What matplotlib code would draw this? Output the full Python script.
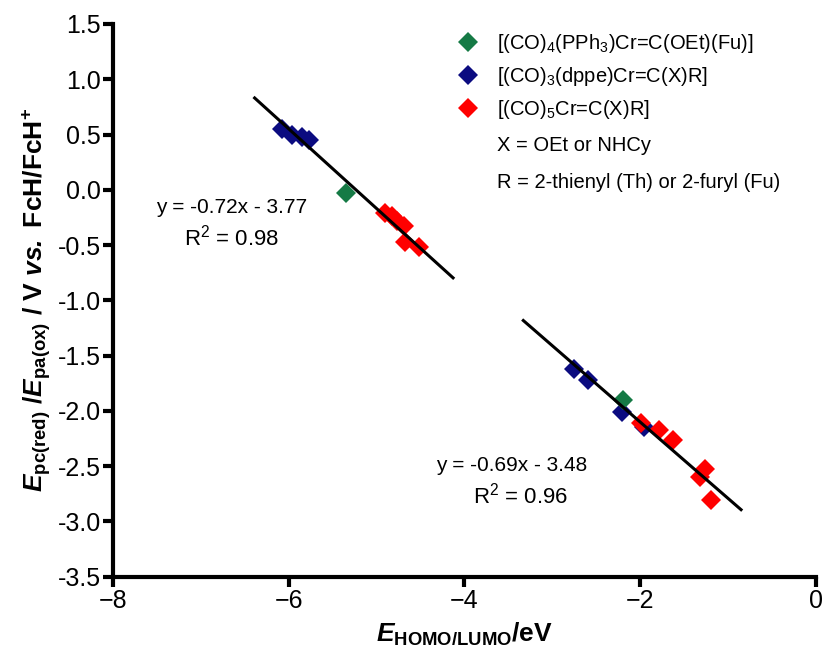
import numpy as np
import matplotlib
matplotlib.use('Agg')
import matplotlib.pyplot as plt
from matplotlib.lines import Line2D

# Potenciales vs energias de orbitales (HOMO = oxidacion, LUMO = reduccion)
# grupo superior: oxidacion / HOMO
homo_pph3_x = [-5.35]
homo_pph3_y = [-0.03]
homo_dppe_x = [-6.08, -5.97, -5.85, -5.77]
homo_dppe_y = [0.55, 0.50, 0.48, 0.45]
homo_co5_x = [-4.90, -4.83, -4.77, -4.69, -4.68, -4.52]
homo_co5_y = [-0.21, -0.24, -0.28, -0.33, -0.47, -0.52]

# grupo inferior: reduccion / LUMO
lumo_pph3_x = [-2.19]
lumo_pph3_y = [-1.90]
lumo_dppe_x = [-2.75, -2.59, -2.21, -1.95]
lumo_dppe_y = [-1.62, -1.72, -2.01, -2.15]
lumo_co5_x = [-1.99, -1.78, -1.62, -1.32, -1.26, -1.19]
lumo_co5_y = [-2.11, -2.17, -2.26, -2.60, -2.53, -2.81]

# rectas de ajuste (pendiente, ordenada, rango de x, R2)
fit_homo = (-0.72, -3.77, (-6.39, -4.13), 0.98)
fit_lumo = (-0.69, -3.48, (-3.33, -0.85), 0.96)

etiquetas = [r'[(CO)$_4$(PPh$_3$)Cr=C(OEt)(Fu)]',
             r'[(CO)$_3$(dppe)Cr=C(X)R]',
             r'[(CO)$_5$Cr=C(X)R]']
notas = ['X = OEt or NHCy',
         'R = 2-thienyl (Th) or 2-furyl (Fu)']

c_verde = '#157a45'
c_azul = '#0b0b80'
c_rojo = '#ff0000'

plt.rcParams['font.family'] = ['Liberation Sans', 'DejaVu Sans']
plt.rcParams['mathtext.fontset'] = 'custom'
plt.rcParams['mathtext.rm'] = 'Liberation Sans'
plt.rcParams['mathtext.it'] = 'Liberation Sans:italic'
plt.rcParams['mathtext.bf'] = 'Liberation Sans:bold'
plt.rcParams['mathtext.bfit'] = 'Liberation Sans:italic:bold'

fig = plt.figure(figsize=(8.25, 6.48), dpi=100)
ax = fig.add_axes([0.1373, 0.110, 0.8514, 0.853])

ms = 10
for xs, ys, c in [(homo_dppe_x, homo_dppe_y, c_azul), (lumo_dppe_x, lumo_dppe_y, c_azul),
                  (homo_co5_x, homo_co5_y, c_rojo), (lumo_co5_x, lumo_co5_y, c_rojo),
                  (homo_pph3_x, homo_pph3_y, c_verde), (lumo_pph3_x, lumo_pph3_y, c_verde)]:
    ax.plot(xs, ys, 'D', color=c, ms=ms, mew=0, zorder=3)

for m, b, (x0, x1), r2 in [fit_homo, fit_lumo]:
    xx = np.array([x0, x1])
    ax.plot(xx, m * xx + b, color='black', lw=2.2, zorder=4)

ax.text(-6.65, -0.16, 'y = %.2fx - %.2f' % (fit_homo[0], -fit_homo[1]),
        ha='center', va='center', fontsize=15)
ax.text(-6.65, -0.43, r'R$^2$ = %.2f' % fit_homo[3], ha='center', va='center', fontsize=16)
ax.text(-3.46, -2.49, 'y = %.2fx - %.2f' % (fit_lumo[0], -fit_lumo[1]),
        ha='center', va='center', fontsize=15)
ax.text(-3.36, -2.77, r'R$^2$ = %.2f' % fit_lumo[3], ha='center', va='center', fontsize=16)

# leyenda
handles = [Line2D([], [], ls='none', marker='D', color=c, ms=ms, mew=0)
           for c in (c_verde, c_azul, c_rojo)]
ax.legend(handles, etiquetas, loc='upper left', bbox_to_anchor=(0.4907, 0.985),
          frameon=False, fontsize=14.5, labelspacing=0.5, handlelength=1.0,
          handletextpad=0.95, borderpad=0, borderaxespad=0)
for yy, txt in zip([0.781, 0.714], notas):
    ax.text(0.5463, yy, txt, transform=ax.transAxes, ha='left', va='center', fontsize=14.5)

ax.set_xlim(-8, 0)
ax.set_ylim(-3.5, 1.5)
ax.set_xticks([-8, -6, -4, -2, 0])
ax.set_yticks(np.arange(-3.5, 1.51, 0.5))
ax.set_yticklabels(['%.1f' % v for v in np.arange(-3.5, 1.51, 0.5)])

for s in ['top', 'right']:
    ax.spines[s].set_visible(False)
for s in ['left', 'bottom']:
    ax.spines[s].set_linewidth(3)
ax.tick_params(direction='out', length=7, width=3, labelsize=18, pad=2)

ax.set_xlabel(r'$\mathbfit{E}_{\mathbf{HOMO/LUMO}}\mathbf{/eV}$', fontsize=19, labelpad=5)
ax.set_ylabel(r'$\mathbfit{E}_{\mathbf{pc(red)}}\mathbf{\ /}\mathbfit{E}_{\mathbf{pa(ox)}}'
              r'\mathbf{\ /\ V\ }\mathbfit{vs.}\mathbf{\ FcH/FcH^{+}}$', fontsize=19, labelpad=3)

fig.savefig('out.png', dpi=100)
